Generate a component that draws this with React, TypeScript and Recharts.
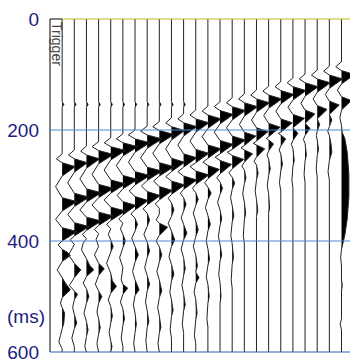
import { ComposedChart, Line, Area, XAxis, YAxis, ReferenceLine, Label } from "recharts";

type Knot = [number, number];

// each trace: [time ms, amplitude in tenths of the trace spacing]
const trace00: Knot[] = [[0,0],[149,0],[154,1],[159,0],[243,0],[252,-3.5],[259,0],[266,8],[283,0],[302,-4],[322,0],[329,9],[346,0],[361,-4],[376,0],[383,9],[400,0],[407,-2.5],[415,0],[420,3],[426,5],[437,0],[452,-3],[466,0],[476,2],[488,5],[502,0],[512,-1],[520,0],[530,1.5],[548,1],[558,0],[570,-1],[582,-2],[594,0],[600,0]];
const trace01: Knot[] = [[0,0],[149,0],[154,1],[159,0],[236,0],[245,-3.5],[252,0],[259,8],[276,0],[295,-4],[314,0],[321,9],[338,0],[352,-4],[367,0],[374,9],[391,0],[398,-2.5],[406,0],[412,-1],[425,-3.5],[440,0],[452,4],[466,0],[480,-3],[490,0],[496,2],[506,0],[520,-1],[532,0],[548,1.5],[558,0],[575,-1.5],[590,0],[600,0]];
const trace02: Knot[] = [[0,0],[149,0],[154,1],[159,0],[229,0],[238,-3.5],[245,0],[252,8],[269,0],[288,-4],[306,0],[313,9],[330,0],[344,-4],[357,0],[364,9],[381,0],[388,-2.5],[396,0],[404,-2],[416,-3],[432,0],[444,2],[452,4.5],[464,0],[476,-2],[486,0],[500,1.5],[512,0],[530,-1.5],[545,0],[560,1],[572,0],[590,-1],[600,0]];
const trace03: Knot[] = [[0,0],[149,0],[154,1],[159,0],[221,0],[230,-4],[237,0],[244,9],[261,0],[280,-4],[298,0],[305,9],[322,0],[335,-4],[348,0],[355,9],[372,0],[379,-2.5],[387,0],[397,-1.5],[410,0],[425,-2.5],[440,0],[450,3.5],[462,0],[478,-2],[490,0],[500,2],[512,0],[528,-1],[540,0],[556,1],[568,0],[585,-1],[600,0]];
const trace04: Knot[] = [[0,0],[149,0],[154,1],[159,0],[214,0],[223,-4],[230,0],[237,9],[254,0],[272,-4],[290,0],[297,9],[314,0],[326,-4],[339,0],[346,9],[363,0],[370,-2.5],[378,0],[388,-1.5],[398,0],[410,1.5],[420,0],[440,-2.5],[458,0],[472,1],[482,3.5],[494,0],[506,-1.5],[518,0],[535,1],[548,0],[565,-1],[580,0],[590,0.8],[600,0]];
const trace05: Knot[] = [[0,0],[149,0],[154,1],[159,0],[207,0],[216,-4],[223,0],[230,9],[247,0],[264,-4],[282,0],[289,9],[306,0],[318,-3.5],[329,0],[336,8],[353,0],[360,-2.5],[368,0],[378,-1.5],[388,0],[400,1.5],[412,0],[430,-2],[448,0],[470,-1],[478,0],[485,3],[496,0],[510,-1.5],[522,0],[540,1],[552,0],[575,-1],[590,0],[600,0]];
const trace06: Knot[] = [[0,0],[149,0],[154,1],[159,0],[200,0],[209,-4],[216,0],[223,9],[240,0],[258,-4],[275,0],[282,9],[299,0],[310,-3.5],[320,0],[327,8],[344,0],[351,-2.5],[359,0],[370,1.5],[382,0],[395,-2],[410,0],[425,2],[438,0],[455,-1.5],[470,0],[488,2.5],[498,0],[515,-1],[530,0],[550,0.8],[565,0],[585,-0.8],[600,0]];
const trace07: Knot[] = [[0,0],[149,0],[154,1],[159,0],[193,0],[202,-4],[209,0],[216,9],[233,0],[250,-4],[267,0],[274,9],[291,0],[301,-3.5],[311,0],[318,8],[335,0],[342,-2.5],[350,0],[362,1.5],[374,0],[388,-2],[402,0],[418,1.5],[430,0],[448,-1.5],[462,0],[478,1.5],[490,0],[510,-1],[525,0],[545,1],[556,0],[580,-0.8],[600,0]];
const trace08: Knot[] = [[0,0],[149,0],[154,1],[159,0],[185,0],[194,-4],[201,0],[208,9],[225,0],[242,-4],[259,0],[266,9],[283,0],[292,-3.5],[302,0],[309,8],[326,0],[333,-2.5],[341,0],[352,0],[362,-2],[368,0],[375,5],[390,0],[400,-2],[410,0],[425,1.5],[438,0],[455,-1.5],[470,0],[490,1.5],[502,0],[520,-1],[535,0],[555,1],[566,0],[585,-0.8],[600,0]];
const trace09: Knot[] = [[0,0],[149,0],[154,1],[159,0],[178,0],[187,-3.5],[194,0],[201,8],[218,0],[234,-3.5],[251,0],[258,8],[275,0],[284,-3.5],[292,0],[299,8],[316,0],[323,-2],[331,0],[344,1.5],[356,0],[368,-2],[382,0],[398,2],[410,0],[428,-1.5],[442,0],[460,1.5],[472,0],[492,-1],[506,0],[525,1],[536,0],[560,-0.8],[575,0],[600,0]];
const trace10: Knot[] = [[0,0],[149,0],[154,1],[159,0],[171,0],[180,-3.5],[187,0],[194,8],[211,0],[227,-3.5],[243,0],[250,8],[267,0],[275,-3.5],[283,0],[290,8],[307,0],[314,-2],[322,0],[334,1.5],[346,0],[358,-1.5],[370,0],[386,2],[398,0],[415,-1.5],[430,0],[450,1],[462,0],[480,-1],[495,0],[515,1],[526,0],[550,-0.8],[565,0],[600,0]];
const trace11: Knot[] = [[0,0],[164,0],[173,-3.5],[180,0],[187,8],[204,0],[220,-3.5],[235,0],[242,8],[259,0],[266,-3.5],[274,0],[281,8],[298,0],[305,-2],[313,0],[325,1.5],[336,0],[350,-1.5],[364,0],[380,1.5],[392,0],[410,-1.5],[425,0],[445,1],[456,0],[466,2],[476,0],[492,-1],[505,0],[530,0.8],[542,0],[570,-0.8],[585,0],[600,0]];
const trace12: Knot[] = [[0,0],[157,0],[166,-3.5],[173,0],[180,8],[197,0],[212,-3.5],[227,0],[234,8],[251,0],[258,-3],[264,0],[271,7],[288,0],[295,-2],[303,0],[314,2],[325,0],[340,-1.5],[354,0],[370,1.5],[382,0],[400,-1],[414,0],[432,1],[444,0],[465,-1],[478,0],[500,0.8],[512,0],[540,-0.6],[555,0],[600,0]];
const trace13: Knot[] = [[0,0],[149,0],[158,-3.5],[165,0],[172,8],[189,0],[204,-3.5],[219,0],[226,8],[243,0],[249,-3],[255,0],[262,7],[279,0],[286,-2],[294,0],[305,1.5],[316,0],[330,-1.5],[344,0],[360,1],[372,0],[392,-1],[406,0],[425,1],[436,0],[460,-0.8],[475,0],[500,0.6],[512,0],[600,0]];
const trace14: Knot[] = [[0,0],[142,0],[151,-3.5],[158,0],[165,8],[182,0],[196,-3.5],[211,0],[218,8],[235,0],[240,-3],[246,0],[253,7],[270,0],[277,-2],[285,0],[296,1.5],[307,0],[322,-1],[336,0],[355,1],[366,0],[390,-0.8],[405,0],[430,0.8],[442,0],[470,-0.6],[485,0],[600,0]];
const trace15: Knot[] = [[0,0],[135,0],[144,-3.5],[151,0],[158,8],[175,0],[190,-3],[204,0],[211,7],[228,0],[232,-2],[236,0],[243,5],[258,0],[265,-1.5],[272,0],[286,1],[297,0],[315,-1],[330,0],[350,0.8],[362,0],[390,-0.6],[405,0],[600,0]];
const trace16: Knot[] = [[0,0],[128,0],[137,-3.5],[144,0],[151,8],[168,0],[182,-3],[196,0],[203,7],[220,0],[224,-2],[227,0],[234,5],[249,0],[256,-1.5],[263,0],[278,1],[290,0],[310,-0.8],[325,0],[345,0.8],[356,0],[600,0]];
const trace17: Knot[] = [[0,0],[121,0],[130,-3.5],[137,0],[144,8],[161,0],[174,-3],[188,0],[195,7],[212,0],[215,-1.5],[218,0],[225,3],[238,0],[245,-1],[252,0],[270,1],[282,0],[300,-0.8],[315,0],[340,0.6],[350,0],[600,0]];
const trace18: Knot[] = [[0,0],[113,0],[122,-3.5],[129,0],[136,8],[153,0],[166,-3],[180,0],[187,7],[204,0],[206,-1.5],[209,0],[216,3],[229,0],[236,-1],[243,0],[262,1],[274,0],[295,-0.8],[310,0],[600,0]];
const trace19: Knot[] = [[0,0],[106,0],[115,-3.5],[122,0],[129,8],[146,0],[159,-3],[172,0],[179,7],[196,0],[206,3],[219,0],[226,-1],[233,0],[255,0.8],[266,0],[290,-0.6],[305,0],[600,0]];
const trace20: Knot[] = [[0,0],[99,0],[108,-3.5],[115,0],[122,8],[139,0],[152,-2.5],[164,0],[171,6],[188,0],[197,3],[210,0],[217,-1],[224,0],[245,0.8],[256,0],[280,-0.6],[295,0],[600,0]];
const trace21: Knot[] = [[0,0],[92,0],[101,-3.5],[108,0],[115,8],[132,0],[144,-2.5],[156,0],[163,6],[180,0],[190,1.5],[202,0],[210,-0.5],[218,0],[235,0.8],[246,0],[270,-0.6],[285,0],[600,0]];
const trace22: Knot[] = [[0,0],[85,0],[94,-3.5],[101,0],[108,8],[125,0],[136,-2.5],[148,0],[155,6],[172,0],[182,1.5],[194,0],[202,-1],[210,0],[225,1],[240,1.5],[255,0],[275,-0.8],[290,0],[600,0]];
const trace23: Knot[] = [[0,0],[77,0],[86,-3.5],[93,0],[100,8],[117,0],[128,-2.5],[140,0],[147,6],[164,0],[178,-1],[192,0],[205,0.5],[215,2],[240,3.5],[280,4.5],[320,4.5],[360,3.5],[390,2],[405,0.8],[415,0],[430,-0.5],[445,0],[470,0],[480,0.5],[490,0],[540,0],[550,-0.8],[560,0],[600,0]];

const traces = [trace00, trace01, trace02, trace03, trace04, trace05, trace06, trace07, trace08, trace09, trace10, trace11,
  trace12, trace13, trace14, trace15, trace16, trace17, trace18, trace19, trace20, trace21, trace22, trace23];

const timeTicks = [0, 200, 400, 535, 600];
const tickLabels: Record<number, string> = { 0: "0", 200: "200", 400: "400", 535: "(ms)", 600: "600" };
const gridTimes = [200, 400];
const triggerText = "Trigger";

const FONT = "'Liberation Sans', Arial, sans-serif";
const GAIN = 1.35; // display gain, trace spacing = 1

const series = traces.map((knots, i) => ({
  line: knots.map(([t, a]) => ({ t, v: i + (a / 10) * GAIN })),
  fill: knots.map(([t, a]) => ({ t, f: [i, i + (Math.max(a, 0) / 10) * GAIN] })),
}));

function TimeTick(props: any) {
  const { x, y, payload } = props;
  const isUnit = payload.value === 535;
  return (
    <text x={x + (isUnit ? 3 : -3)} y={y} dy="0.36em" textAnchor="end" fill="#1c1c7e" fontSize={19} fontFamily={FONT}>
      {tickLabels[payload.value]}
    </text>
  );
}

function TriggerLabel(props: any) {
  const vb = props.viewBox || { x: 0, y: 0 };
  return (
    <text transform={`translate(${vb.x + 2},${vb.y + 3}) rotate(90)`} fontSize={14} fill="#444" fontFamily={FONT}>
      {triggerText}
    </text>
  );
}

export default function App() {
  return (
    <div style={{ position: "absolute", left: 0, top: 0, background: "#fff" }}>
      <ComposedChart width={350} height={363} layout="vertical" margin={{ top: 19, right: 0, bottom: 11, left: 0 }}>
        <XAxis type="number" domain={[-1, 23.7]} hide allowDataOverflow />
        <YAxis
          type="number"
          dataKey="t"
          domain={[0, 600]}
          ticks={timeTicks}
          interval={0}
          width={50}
          axisLine={false}
          tickLine={false}
          tick={(p: any) => <TimeTick {...p} />}
          allowDataOverflow
        />
        {series.map((s, i) => (
          <Area
            key={`f${i}`}
            data={s.fill}
            dataKey="f"
            type="linear"
            stroke="none"
            fill="#000"
            fillOpacity={1}
            dot={false}
            activeDot={false}
            isAnimationActive={false}
          />
        ))}
        {series.map((s, i) => (
          <Line
            key={`l${i}`}
            data={s.line}
            dataKey="v"
            type="linear"
            stroke="#222"
            strokeWidth={1}
            dot={false}
            activeDot={false}
            isAnimationActive={false}
          />
        ))}
        <ReferenceLine x={-1} stroke="#000">
          <Label content={(p: any) => <TriggerLabel {...p} />} />
        </ReferenceLine>
        <ReferenceLine segment={[{ x: -1, y: 0 }, { x: 0, y: 0 }]} stroke="#000" />
        <ReferenceLine segment={[{ x: 0, y: 0 }, { x: 23.7, y: 0 }]} stroke="#bcbc1c" />
        {gridTimes.map((t) => (
          <ReferenceLine key={t} y={t} stroke="#4f86d2" />
        ))}
        <ReferenceLine y={600} stroke="#2362b4" />
      </ComposedChart>
    </div>
  );
}
